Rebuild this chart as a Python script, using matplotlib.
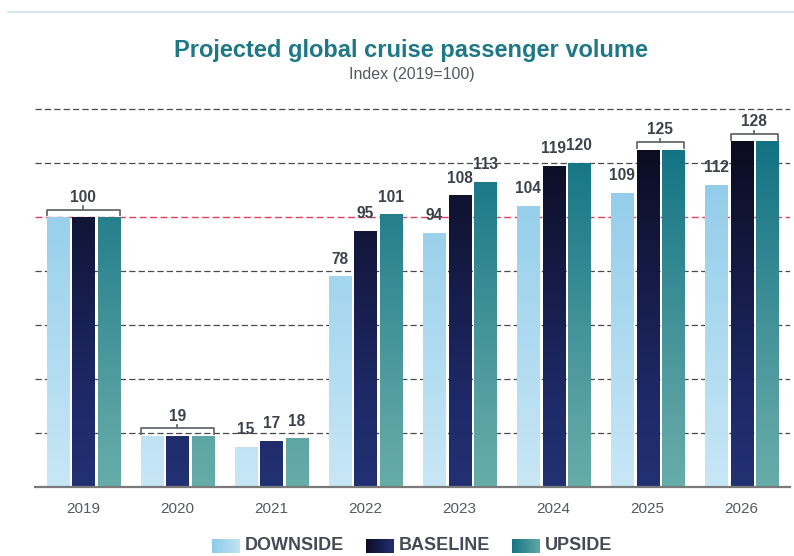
import numpy as np
import matplotlib
matplotlib.use("Agg")
import matplotlib.pyplot as plt
from matplotlib.colors import LinearSegmentedColormap

years = ["2019", "2020", "2021", "2022", "2023", "2024", "2025", "2026"]
downside = [100, 19, 15, 78, 94, 104, 109, 112]
baseline = [100, 19, 17, 95, 108, 119, 125, 128]
upside = [100, 19, 18, 101, 113, 120, 125, 128]
series_names = ["DOWNSIDE", "BASELINE", "UPSIDE"]
grid_values = [20, 40, 60, 80, 120, 140]
reference_value = 100
# (year index, first series, last series) sharing one label
brackets = [(0, 0, 2), (1, 0, 2), (6, 1, 2), (7, 1, 2)]

plt.rcParams["font.family"] = ["Liberation Sans", "DejaVu Sans"]

cmaps = [
    LinearSegmentedColormap.from_list("down", ["#c8e7f6", "#a9d8ef", "#8bc9e8"]),
    LinearSegmentedColormap.from_list("base", [(0, "#223173"), (0.25, "#1e2a68"), (1, "#0b0b1f")]),
    LinearSegmentedColormap.from_list("up", [(0, "#66aca9"), (0.2, "#5aa2a3"), (1, "#117283")]),
]
GRAD_TOP = 130

fig = plt.figure(figsize=(7.94, 5.56), dpi=100)
ax = fig.add_axes([35 / 794, 1 - 487 / 556, 755 / 794, 405 / 556])

series = [downside, baseline, upside]
x = np.arange(len(years))
step, width = 0.272, 0.234

for g in grid_values:
    ax.axhline(g, color="#4a4a4a", lw=0.9, ls=(0, (5, 2.5)), zorder=1)
ax.axhline(reference_value, color="#e2405c", lw=1.0, ls=(0, (5, 2.5)), zorder=1)

label_kw = dict(ha="center", va="bottom", fontsize=11.2, fontweight="bold", color="#3c414c")
bracketed = {(b[0], s) for b in brackets for s in range(b[1], b[2] + 1)}

for si, vals in enumerate(series):
    pos = x + (si - 1) * step
    bars = ax.bar(pos, vals, width, color="none", edgecolor="none", zorder=2)
    for rect, v in zip(bars, vals):
        x0 = rect.get_x()
        grad = np.linspace(0, v / GRAD_TOP, 100).reshape(-1, 1)
        im = ax.imshow(grad, extent=[x0, x0 + width, 0, v], origin="lower",
                       cmap=cmaps[si], vmin=0, vmax=1, aspect="auto", zorder=3)
        im.set_clip_path(rect)
    for i, (p, v) in enumerate(zip(pos, vals)):
        if (i, si) in bracketed:
            continue
        ax.text(p, v + 3.6, str(v), **label_kw)

for gi, s0, s1 in brackets:
    top = max(series[s][gi] for s in range(s0, s1 + 1))
    xl = x[gi] + (s0 - 1) * step - width / 2
    xr = x[gi] + (s1 - 1) * step + width / 2
    yb = top + 2.7
    xm = x[gi] + (s0 + s1 - 2) * step / 2
    ax.plot([xl, xl, xr, xr], [top + 0.6, yb, yb, top + 0.6], color="#666a70", lw=1.3, zorder=4)
    ax.plot([xm, xm], [yb, yb + 1.3], color="#666a70", lw=1.3, zorder=4)
    ax.text(xm, yb + 1.8, str(top), **label_kw)

ax.set_xlim(-0.515, len(years) - 0.485)
ax.set_ylim(0, 150)
ax.set_xticks(x)
ax.set_xticklabels(years, fontsize=11, color="#555a60")
ax.tick_params(axis="x", length=0, pad=11)
ax.set_yticks([])
for side in ["left", "right", "top"]:
    ax.spines[side].set_visible(False)
ax.spines["bottom"].set_color("#7a7a7a")
ax.spines["bottom"].set_linewidth(1.6)
ax.spines["bottom"].set_zorder(5)

# overlay in pixel coordinates for title, top rule and legend
ov = fig.add_axes([0, 0, 1, 1], zorder=10)
ov.axis("off")
ov.patch.set_alpha(0)
ov.plot([8, 794], [12, 12], color="#dce6e8", lw=1.6)
ov.text(411, 50, "Projected global cruise passenger volume", ha="center", va="center",
        fontsize=17, fontweight="bold", color="#1f7886")
ov.text(412, 74, "Index (2019=100)", ha="center", va="center", fontsize=11.5, color="#555a60")

legend_x = [212, 366, 512]
for si, (lx, name) in enumerate(zip(legend_x, series_names)):
    grad = np.linspace(0.95, 0.12, 50).reshape(1, -1)
    ov.imshow(grad, extent=[lx, lx + 28, 553, 539], cmap=cmaps[si], vmin=0, vmax=1, aspect="auto")
    ov.text(lx + 33, 546, name, ha="left", va="center", fontsize=13, fontweight="bold",
            color="#454a56")
ov.set_xlim(0, 794)
ov.set_ylim(556, 0)

fig.savefig("out.png", dpi=100)
